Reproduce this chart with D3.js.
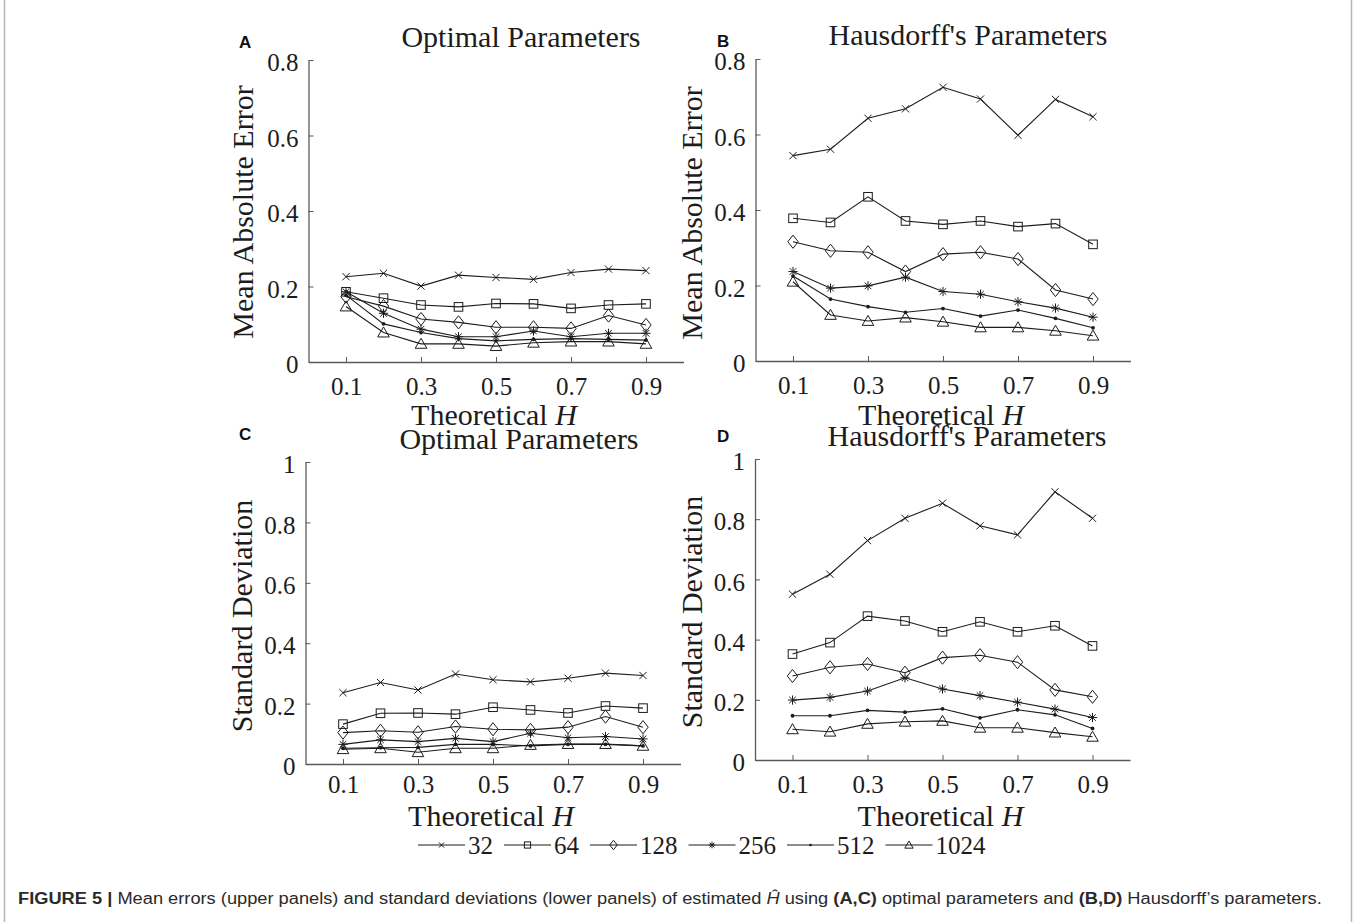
<!DOCTYPE html>
<html>
<head>
<meta charset="utf-8">
<script src="https://cdn.jsdelivr.net/npm/d3@7"></script>
<style>
  html, body { margin: 0; padding: 0; background: #fff; }
  svg { display: block; }
</style>
</head>
<body>
<svg id="fig" width="1357" height="922"></svg>
<script>
// ---- data -------------------------------------------------------------
const hValues = [0.1, 0.2, 0.3, 0.4, 0.5, 0.6, 0.7, 0.8, 0.9];
const sampleSizes = ["32", "64", "128", "256", "512", "1024"];
const xTickValues = [0.1, 0.3, 0.5, 0.7, 0.9];
const maeTickValues = [0, 0.2, 0.4, 0.6, 0.8];
const sdTickValues = [0, 0.2, 0.4, 0.6, 0.8, 1];

// Mean absolute error, optimal parameters (rows follow sampleSizes)
const maeOptimal = [
  [0.226, 0.235, 0.201, 0.230, 0.224, 0.219, 0.237, 0.246, 0.242],
  [0.186, 0.169, 0.151, 0.146, 0.155, 0.154, 0.142, 0.151, 0.154],
  [0.173, 0.148, 0.114, 0.105, 0.092, 0.092, 0.089, 0.123, 0.098],
  [0.186, 0.129, 0.087, 0.067, 0.067, 0.082, 0.067, 0.076, 0.076],
  [0.177, 0.101, 0.078, 0.062, 0.056, 0.060, 0.062, 0.060, 0.058],
  [0.147, 0.078, 0.048, 0.048, 0.042, 0.051, 0.054, 0.054, 0.048]
];

// Mean absolute error, Hausdorff's parameters
const maeHausdorff = [
  [0.544, 0.561, 0.643, 0.668, 0.725, 0.694, 0.598, 0.693, 0.647],
  [0.378, 0.367, 0.435, 0.371, 0.362, 0.371, 0.356, 0.364, 0.309],
  [0.316, 0.292, 0.288, 0.237, 0.283, 0.288, 0.270, 0.188, 0.164],
  [0.237, 0.193, 0.199, 0.222, 0.184, 0.177, 0.157, 0.140, 0.116],
  [0.225, 0.164, 0.144, 0.129, 0.139, 0.119, 0.135, 0.113, 0.088],
  [0.210, 0.122, 0.106, 0.115, 0.104, 0.089, 0.089, 0.080, 0.067]
];

// Standard deviation, optimal parameters
const sdOptimal = [
  [0.236, 0.270, 0.245, 0.298, 0.279, 0.272, 0.284, 0.301, 0.293],
  [0.132, 0.168, 0.169, 0.165, 0.188, 0.179, 0.169, 0.192, 0.185],
  [0.104, 0.110, 0.105, 0.124, 0.115, 0.113, 0.122, 0.157, 0.122],
  [0.065, 0.080, 0.074, 0.085, 0.074, 0.102, 0.087, 0.091, 0.083],
  [0.052, 0.054, 0.055, 0.065, 0.065, 0.060, 0.065, 0.065, 0.060],
  [0.049, 0.052, 0.039, 0.052, 0.052, 0.063, 0.066, 0.066, 0.060]
];

// Standard deviation, Hausdorff's parameters
const sdHausdorff = [
  [0.551, 0.617, 0.729, 0.803, 0.853, 0.778, 0.748, 0.891, 0.803],
  [0.352, 0.390, 0.478, 0.462, 0.426, 0.459, 0.426, 0.446, 0.379],
  [0.279, 0.308, 0.319, 0.290, 0.340, 0.348, 0.325, 0.233, 0.210],
  [0.199, 0.208, 0.229, 0.273, 0.236, 0.214, 0.192, 0.169, 0.141],
  [0.147, 0.147, 0.165, 0.159, 0.170, 0.140, 0.167, 0.150, 0.105],
  [0.102, 0.094, 0.120, 0.127, 0.130, 0.107, 0.107, 0.091, 0.077]
];

// ---- layout -----------------------------------------------------------
const SERIF = "'Liberation Serif', 'Times New Roman', serif";
const SANS = "'Liberation Sans', Arial, Helvetica, sans-serif";
const INK = "#1c1c1c";
const AXIS = "#5a5a5a";

const panels = [
  { letter: "A", title: "Optimal Parameters", ylabel: "Mean Absolute Error",
    values: maeOptimal, yMax: 0.8, yTicks: maeTickValues,
    x0: 308.5, x1: 683.5, yBase: 362, yTop: 60,
    letterPos: [239, 48], titlePos: [521, 47], ylabPos: [253, 212],
    tickPad: 15, xlabY: 425 },
  { letter: "B", title: "Hausdorff's Parameters", ylabel: "Mean Absolute Error",
    values: maeHausdorff, yMax: 0.8, yTicks: maeTickValues,
    x0: 755.5, x1: 1130.5, yBase: 361, yTop: 59,
    letterPos: [717, 47], titlePos: [968, 45], ylabPos: [702, 213],
    tickPad: 15, xlabY: 425 },
  { letter: "C", title: "Optimal Parameters", ylabel: "Standard Deviation",
    values: sdOptimal, yMax: 1, yTicks: sdTickValues,
    x0: 305.5, x1: 680.5, yBase: 764, yTop: 462,
    letterPos: [239, 440], titlePos: [519, 449], ylabPos: [252, 616],
    tickPad: 11, xlabY: 826 },
  { letter: "D", title: "Hausdorff's Parameters", ylabel: "Standard Deviation",
    values: sdHausdorff, yMax: 1, yTicks: sdTickValues,
    x0: 755, x1: 1130, yBase: 760, yTop: 459,
    letterPos: [717, 442], titlePos: [967, 446], ylabPos: [702, 612],
    tickPad: 15, xlabY: 826 }
];

// ---- markers ----------------------------------------------------------
function drawMarker(g, kind, s) {
  const st = { stroke: INK, "stroke-width": 1, fill: "none" };
  const add = (tag, attrs) => {
    const el = g.append(tag);
    Object.entries(Object.assign({}, st, attrs)).forEach(([k, v]) => el.attr(k, v));
    return el;
  };
  switch (kind) {
    case 0: { // x-mark
      const r = 3.6 * s;
      add("path", { d: `M${-r},${-r}L${r},${r}M${-r},${r}L${r},${-r}` });
      break;
    }
    case 1: { // square
      const r = 4.3 * s;
      add("rect", { x: -r, y: -r, width: 2 * r, height: 2 * r });
      break;
    }
    case 2: { // diamond
      const w = 5.2 * s, h = 6.6 * s;
      add("path", { d: `M0,${-h}L${w},0L0,${h}L${-w},0Z` });
      break;
    }
    case 3: { // asterisk
      const r = 4.6 * s, d = 3.3 * s;
      add("path", { d: `M${-r},0L${r},0M0,${-r}L0,${r}M${-d},${-d}L${d},${d}M${-d},${d}L${d},${-d}` });
      break;
    }
    case 4: { // dot
      add("circle", { r: 1.9 * s, fill: INK, stroke: "none" });
      break;
    }
    case 5: { // triangle
      const w = 5.8 * s, t = 5.6 * s, b = 4.4 * s;
      add("path", { d: `M0,${-t}L${w},${b}L${-w},${b}Z` });
      break;
    }
  }
}

// ---- drawing ----------------------------------------------------------
const svg = d3.select("#fig");

// figure frame
svg.append("line").attr("x1", 4.5).attr("x2", 4.5).attr("y1", 0).attr("y2", 922)
  .attr("stroke", "#b5b5b5").attr("stroke-width", 1.5);
svg.append("line").attr("x1", 1351.5).attr("x2", 1351.5).attr("y1", 0).attr("y2", 922)
  .attr("stroke", "#b5b5b5").attr("stroke-width", 1.5);

const tickFmt = d => (d === 0 ? "0" : d === 1 ? "1" : d.toFixed(1));

panels.forEach(p => {
  const x = d3.scaleLinear().domain([0, 1]).range([p.x0, p.x1]);
  const y = d3.scaleLinear().domain([0, p.yMax]).range([p.yBase, p.yTop]);
  const g = svg.append("g").attr("class", "panel-" + p.letter);

  // x axis (ticks point inward)
  const gx = g.append("g").attr("transform", `translate(0,${p.yBase})`)
    .call(d3.axisBottom(x).tickValues(xTickValues).tickFormat(d3.format(".1f"))
      .tickSizeInner(-5).tickSizeOuter(0).tickPadding(p.tickPad));
  // y axis
  const gy = g.append("g").attr("transform", `translate(${p.x0},0)`)
    .call(d3.axisLeft(y).tickValues(p.yTicks).tickFormat(tickFmt)
      .tickSizeInner(-5).tickSizeOuter(0).tickPadding(10));

  [gx, gy].forEach(ax => {
    ax.select(".domain").attr("stroke", AXIS).attr("stroke-width", 1.3);
    ax.selectAll(".tick line").attr("stroke", AXIS).attr("stroke-width", 1);
    ax.selectAll(".tick text").attr("fill", INK)
      .style("font-family", SERIF).style("font-size", "25px");
  });
  gy.selectAll(".tick text").attr("dy", "0.43em");

  // series
  p.values.forEach((row, si) => {
    const pts = row.map((v, i) => [x(hValues[i]), y(v)]);
    g.append("path").attr("d", d3.line()(pts))
      .attr("fill", "none").attr("stroke", INK).attr("stroke-width", 1.1);
    pts.forEach(([px, py]) => {
      const m = g.append("g").attr("transform", `translate(${px},${py})`);
      drawMarker(m, si, 1);
    });
  });

  // panel letter
  g.append("text").attr("x", p.letterPos[0]).attr("y", p.letterPos[1])
    .style("font-family", SANS).style("font-weight", "bold").style("font-size", "17px")
    .attr("fill", "#111").text(p.letter);

  // title
  g.append("text").attr("x", p.titlePos[0]).attr("y", p.titlePos[1])
    .attr("text-anchor", "middle").style("font-family", SERIF).style("font-size", "30px")
    .attr("fill", INK).text(p.title);

  // y label
  g.append("text")
    .attr("transform", `translate(${p.ylabPos[0]},${p.ylabPos[1]}) rotate(-90)`)
    .attr("text-anchor", "middle").style("font-family", SERIF).style("font-size", "30px")
    .attr("fill", INK).text(p.ylabel);

  // x label
  const xl = g.append("text").attr("x", (p.x0 + p.x1) / 2 - 2).attr("y", p.xlabY)
    .attr("text-anchor", "middle").style("font-family", SERIF).style("font-size", "30px")
    .attr("fill", INK);
  xl.append("tspan").text("Theoretical ");
  xl.append("tspan").style("font-style", "italic").text("H");
});

// ---- legend -----------------------------------------------------------
const legend = svg.append("g").attr("transform", "translate(418,845)");
let lx = 0;
sampleSizes.forEach((lab, si) => {
  const item = legend.append("g").attr("transform", `translate(${lx},0)`);
  item.append("line").attr("x1", 0).attr("x2", 47).attr("y1", 0).attr("y2", 0)
    .attr("stroke", INK).attr("stroke-width", 1.1);
  const m = item.append("g").attr("transform", "translate(23.5,0)");
  drawMarker(m, si, 0.72);
  const t = item.append("text").attr("x", 50).attr("y", 0).attr("dy", "0.35em")
    .style("font-family", SERIF).style("font-size", "25px").attr("fill", INK).text(lab);
  lx += 50 + t.node().getComputedTextLength() + 11;
});

// ---- caption ----------------------------------------------------------
const cap = svg.append("text").attr("x", 0).attr("y", 0)
  .style("font-family", SANS).style("font-size", "16px").attr("fill", "#2a2a2a");
const parts = [
  ["FIGURE 5 | ", "bold"],
  ["Mean errors (upper panels) and standard deviations (lower panels) of estimated ", "normal"],
  ["\u0124", "italic"],
  [" using ", "normal"],
  ["(A,C)", "bold"],
  [" optimal parameters and ", "normal"],
  ["(B,D)", "bold"],
  [" Hausdorff\u2019s parameters.", "normal"]
];
parts.forEach(([txt, style]) => {
  const ts = cap.append("tspan").text(txt);
  if (style === "bold") ts.style("font-weight", "bold");
  if (style === "italic") ts.style("font-style", "italic");
});
const capLen = cap.node().getComputedTextLength();
const capTarget = 1322 - 18;
cap.attr("transform", `translate(18,904) scale(${capTarget / capLen},1)`);
</script>
</body>
</html>
